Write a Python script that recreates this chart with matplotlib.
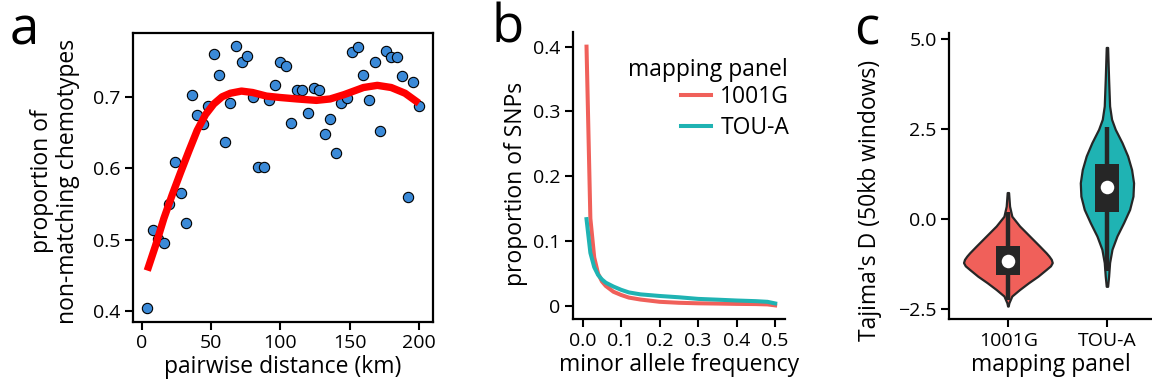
import numpy as np
import matplotlib
matplotlib.use("Agg")
import matplotlib.pyplot as plt
from matplotlib.lines import Line2D

plt.rcParams['font.family'] = ['Open Sans', 'DejaVu Sans']

RED = '#F0605A'
TEAL = '#1FB3B3'
DARK = '#262626'

# ---- panel a: distance vs non-matching chemotypes
dist_km = [4, 8, 12, 16, 20, 24, 28, 32, 36, 40, 44, 48, 52, 56, 60, 64, 68, 72, 76, 80,
           84, 88, 92, 96, 100, 104, 108, 112, 116, 120, 124, 128, 132, 136, 140, 144, 148,
           152, 156, 160, 164, 168, 172, 176, 180, 184, 188, 192, 196, 200]
prop_nonmatch = [0.405, 0.514, 0.501, 0.496, 0.550, 0.609, 0.565, 0.524, 0.702, 0.675,
                 0.662, 0.687, 0.760, 0.730, 0.637, 0.692, 0.771, 0.749, 0.757, 0.700,
                 0.602, 0.602, 0.696, 0.716, 0.748, 0.743, 0.663, 0.709, 0.709, 0.677,
                 0.712, 0.709, 0.648, 0.669, 0.622, 0.692, 0.698, 0.762, 0.769, 0.730,
                 0.696, 0.748, 0.652, 0.764, 0.756, 0.755, 0.729, 0.560, 0.720, 0.687]
smooth_x = [4, 10, 16, 22, 28, 34, 40, 46, 52, 58, 64, 72, 80, 90, 100, 112, 126, 136,
            146, 160, 170, 180, 190, 200]
smooth_y = [0.457, 0.492, 0.530, 0.563, 0.594, 0.624, 0.653, 0.675, 0.690, 0.700, 0.705,
            0.708, 0.706, 0.701, 0.699, 0.697, 0.695, 0.697, 0.703, 0.713, 0.716, 0.713,
            0.705, 0.691]

# ---- panel b: site frequency spectrum
maf = [0.01, 0.02, 0.03, 0.04, 0.05, 0.06, 0.08, 0.10, 0.12, 0.15, 0.20, 0.25, 0.30,
       0.35, 0.40, 0.45, 0.48, 0.50]
sfs_1001g = [0.400, 0.135, 0.075, 0.050, 0.038, 0.031, 0.022, 0.017, 0.013, 0.010, 0.0065,
             0.0050, 0.0042, 0.0038, 0.0033, 0.0030, 0.0025, 0.0010]
sfs_toua = [0.134, 0.082, 0.060, 0.048, 0.041, 0.036, 0.030, 0.025, 0.021, 0.018, 0.0155,
            0.0135, 0.0110, 0.0098, 0.0085, 0.0075, 0.0065, 0.0040]
panels = ['1001G', 'TOU-A']

# ---- panel c: Tajima's D violins (outline read as y / half width)
viol_1001g_y = [0.72, 0.34, 0.06, -0.21, -0.49, -0.77, -0.96, -1.05, -1.14, -1.23, -1.32,
                -1.42, -1.61, -1.79, -1.98, -2.16, -2.35, -2.44]
viol_1001g_w = [0.007, 0.017, 0.040, 0.118, 0.219, 0.320, 0.387, 0.415, 0.438, 0.448, 0.430,
                0.387, 0.303, 0.209, 0.118, 0.040, 0.010, 0.003]
viol_toua_y = [4.76, 3.87, 3.13, 2.76, 2.48, 2.11, 1.74, 1.36, 0.99, 0.62, 0.25, -0.12,
               -0.49, -0.86, -1.23, -1.61, -1.89]
viol_toua_w = [0.007, 0.017, 0.027, 0.047, 0.084, 0.152, 0.209, 0.249, 0.269, 0.263, 0.229,
               0.168, 0.101, 0.051, 0.027, 0.017, 0.007]
q1 = [-1.56, 0.20]
q3 = [-0.75, 1.52]
medians = [-1.17, 0.90]
whisk_lo = [-2.26, -1.45]
whisk_hi = [0.20, 2.55]

fig = plt.figure(figsize=(11.52, 3.85), dpi=100)
LAB = 16.5
TICK = 14

# ---------------- a
ax = fig.add_axes([0.1152, 0.1644, 0.2607, 0.7506])
ax.scatter(dist_km, prop_nonmatch, s=55, c='#3B8AD8', edgecolors='black', linewidths=0.8,
           zorder=2)
ax.plot(smooth_x, smooth_y, color='#FF0000', lw=5.3, solid_capstyle='butt', zorder=3)
ax.set_xlim(-6.5, 210.2)
ax.set_ylim(0.3855, 0.7896)
ax.set_xticks([0, 50, 100, 150, 200])
ax.set_yticks([0.4, 0.5, 0.6, 0.7])
for s in ax.spines.values():
    s.set_linewidth(1.6)
ax.tick_params(width=1.5, length=6, labelsize=TICK, pad=3)
ax.set_xlabel('pairwise distance (km)', fontsize=LAB, labelpad=2)
ax.set_ylabel('proportion of\nnon-matching chemotypes', fontsize=LAB, linespacing=1.1)
ax.yaxis.set_label_coords(-0.175, 0.487)
fig.text(0.008, 0.885, 'a', fontsize=38)

# ---------------- b
bx = fig.add_axes([0.4971, 0.1706, 0.1843, 0.747])
bx.plot(maf, sfs_1001g, color=RED, lw=2.9)
bx.plot(maf, sfs_toua, color=TEAL, lw=2.9)
bx.set_xlim(-0.026, 0.5255)
bx.set_ylim(-0.0205, 0.423)
bx.set_xticks([0.0, 0.1, 0.2, 0.3, 0.4, 0.5])
bx.set_xticklabels(['0.0', '0.1', '0.2', '0.3', '0.4', '0.5'])
bx.set_yticks([0, 0.1, 0.2, 0.3, 0.4])
bx.set_yticklabels(['0', '0.1', '0.2', '0.3', '0.4'])
for side in ['top', 'right']:
    bx.spines[side].set_visible(False)
for side in ['left', 'bottom']:
    bx.spines[side].set_linewidth(1.6)
bx.tick_params(width=1.5, length=6, labelsize=TICK, pad=3)
bx.set_xlabel('minor allele frequency', fontsize=LAB, labelpad=2)
bx.set_ylabel('proportion of SNPs', fontsize=LAB)
bx.yaxis.set_label_coords(-0.21, 0.47)
bx.text(1.014, 0.867, 'mapping panel', transform=bx.transAxes, ha='right', va='center',
        fontsize=LAB)
handles = [Line2D([], [], color=RED, lw=2.9), Line2D([], [], color=TEAL, lw=2.9)]
bx.legend(handles, panels, loc='upper right', bbox_to_anchor=(1.02, 0.815),
          frameon=False, fontsize=LAB, handlelength=1.3, handletextpad=0.4,
          labelspacing=0.32, borderpad=0, borderaxespad=0)
fig.text(0.427, 0.89, 'b', fontsize=38)

# ---------------- c
cx = fig.add_axes([0.8241, 0.1706, 0.1759, 0.7429])
outlines = [(viol_1001g_y, viol_1001g_w, RED), (viol_toua_y, viol_toua_w, TEAL)]
for i, (vy, vw, col) in enumerate(outlines):
    pos = i + 1
    vy = np.array(vy)
    vw = np.array(vw)
    xs = np.concatenate([pos - vw, (pos + vw)[::-1]])
    ys = np.concatenate([vy, vy[::-1]])
    cx.fill(xs, ys, facecolor=col, edgecolor=DARK, lw=1.6, joinstyle='round', zorder=2)
    cx.plot([pos, pos], [whisk_lo[i], whisk_hi[i]], color=DARK, lw=3.2, zorder=3,
            solid_capstyle='butt')
    cx.bar(pos, q3[i] - q1[i], bottom=q1[i], width=0.243, color=DARK, zorder=4)
    cx.scatter([pos], [medians[i]], s=95, color='white', zorder=5, linewidths=0)
cx.set_xlim(0.404, 2.45)
cx.set_ylim(-2.795, 5.167)
cx.set_xticks([1, 2])
cx.set_xticklabels(panels)
cx.set_yticks([-2.5, 0.0, 2.5, 5.0])
cx.set_yticklabels(['\u22122.5', '0.0', '2.5', '5.0'])
for side in ['top', 'right']:
    cx.spines[side].set_visible(False)
for side in ['left', 'bottom']:
    cx.spines[side].set_linewidth(1.6)
cx.tick_params(width=1.5, length=6, labelsize=TICK, pad=3)
cx.set_xlabel('mapping panel', fontsize=LAB, labelpad=2)
cx.set_ylabel("Tajima's D (50kb windows)", fontsize=LAB)
cx.yaxis.set_label_coords(-0.333, 0.414)
fig.text(0.741, 0.885, 'c', fontsize=38)

fig.savefig('out.png', dpi=100)
